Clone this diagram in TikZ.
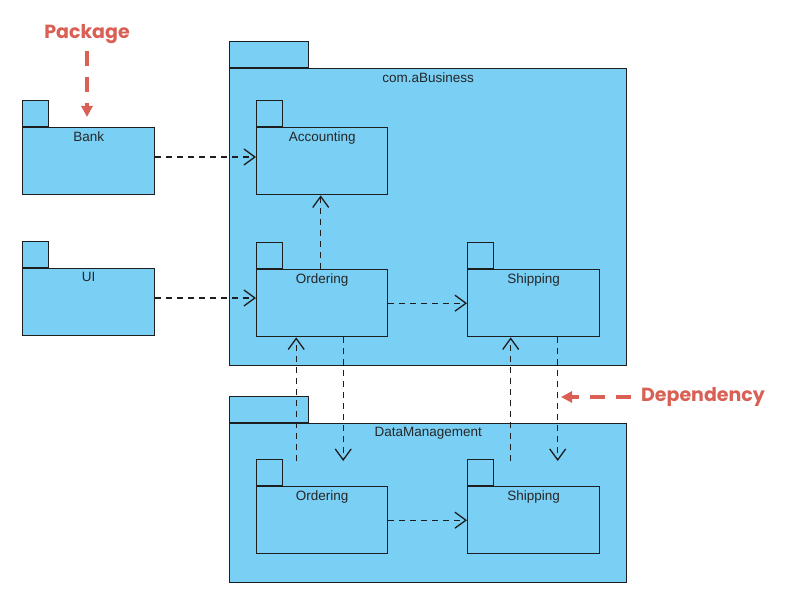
\documentclass[tikz,border=0pt]{standalone}
\usepackage{fontspec}
\setmainfont{Liberation Sans}
\newfontfamily\notefont{Poppins}
\usetikzlibrary{arrows.meta,calc}
\definecolor{pkgblue}{RGB}{122,207,245}
\definecolor{pkgline}{RGB}{30,30,30}
\definecolor{notered}{RGB}{217,96,84}
\tikzset{
  pkgbody/.style={draw=pkgline, fill=pkgblue, line width=1.4pt, anchor=north west, inner sep=0pt},
  pkgtab/.style={draw=pkgline, fill=pkgblue, line width=1.4pt, inner sep=0pt, minimum height=26pt},
  pkglabel/.style={anchor=north, inner sep=4.5pt, text=black!85, font=\fontsize{13.5}{15}\selectfont},
  dep/.style={draw=pkgline, line width=1.3pt, dash pattern=on 6pt off 5pt, -{Straight Barb[length=11pt,width=16pt,line width=1.3pt]}},
  note/.style={text=notered, font=\notefont\bfseries\fontsize{19}{22}\selectfont, inner sep=2pt},
  notearrow/.style={draw=notered, line width=4pt, dash pattern=on 15pt off 11pt, -{Triangle[length=11pt,width=11pt]}}
}
% name, x, y, width, height, tab width, label
\newcommand{\umlpkg}[7]{%
  \node[pkgbody, minimum width=#4pt, minimum height=#5pt, label={[pkglabel]north:#7}] (#1) at (#2,#3) {};
  \node[pkgtab, minimum width=#6pt, anchor=south west] (#1tab) at (#1.north west) {};
}
\begin{document}
\begin{tikzpicture}[x=1pt, y=-1pt]
  \useasboundingbox (0,0) rectangle (787,607);

  \umlpkg{bank}{22}{127}{132}{67}{26}{Bank}
  \umlpkg{ui}{22}{268}{132}{67}{26}{UI}
  \umlpkg{biz}{229}{68}{397}{297}{79}{com.aBusiness}
  \umlpkg{data}{229}{423}{397}{159}{79}{DataManagement}

  \umlpkg{acc}{256}{127}{131}{67}{26}{Accounting}
  \umlpkg{ord}{256}{269}{131}{67}{26}{Ordering}
  \umlpkg{ship}{467}{269}{132}{67}{26}{Shipping}
  \umlpkg{dord}{256}{486}{131}{67}{26}{Ordering}
  \umlpkg{dship}{467}{486}{132}{67}{26}{Shipping}

  % dependencies
  \draw[dep] (bank.east |- 0,157) -- (acc.west |- 0,157);
  \draw[dep] (ui.east |- 0,298) -- (ord.west |- 0,298);
  \draw[dep] ([xshift=-1.5pt]ord.north) -- ([xshift=-1.5pt]acc.south);
  \draw[dep] (ord) -- (ship);
  \draw[dep] (dord) -- (dship);
  \draw[dep] ([xshift=-26pt, yshift=25pt]dord.north) -- ([xshift=-26pt]ord.south);
  \draw[dep] ([xshift=21pt]ord.south) -- ([xshift=21pt, yshift=25pt]dord.north);
  \draw[dep] ([xshift=-23pt, yshift=25pt]dship.north) -- ([xshift=-23pt]ship.south);
  \draw[dep] ([xshift=24pt]ship.south) -- ([xshift=24pt, yshift=25pt]dship.north);

  % notes
  \node[note] (pkgnote) at (87,34) {Package};
  \coordinate (pkgtip) at (87,117);
  \draw[notearrow, shorten <=5pt] (pkgnote) -- (pkgtip);
  \node[note] (depnote) at (703,397) {Dependency};
  \coordinate (deptip) at (561,397);
  \draw[notearrow, shorten <=8pt] (depnote) -- (deptip);
\end{tikzpicture}
\end{document}
